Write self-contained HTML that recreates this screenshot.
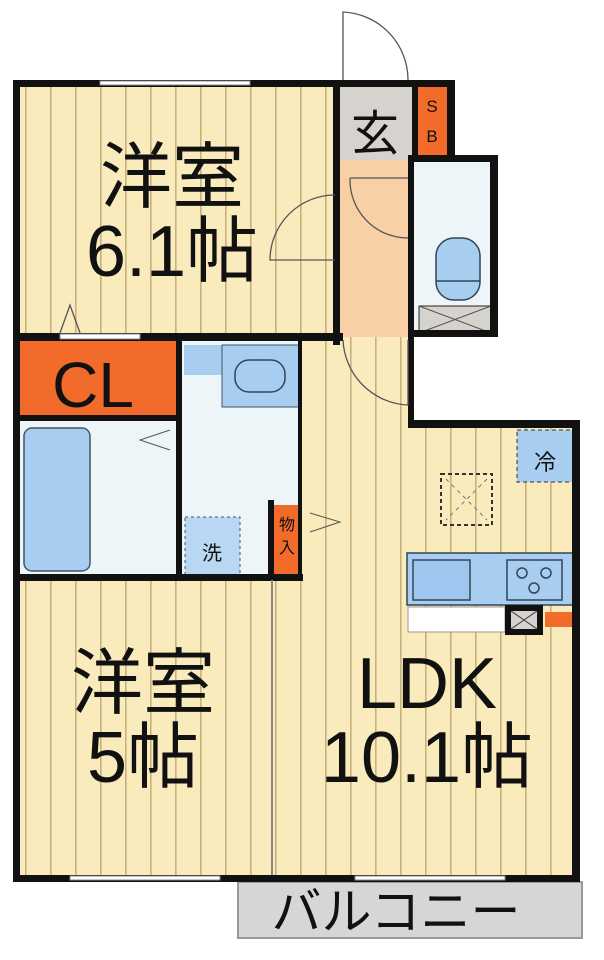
<!DOCTYPE html>
<html><head><meta charset="utf-8"><style>
html,body{margin:0;padding:0;background:#fff;width:604px;height:960px;overflow:hidden}
svg{display:block}
text{font-family:"Liberation Sans","Noto Sans CJK JP",sans-serif;fill:#111}
</style></head><body>
<svg width="604" height="960" viewBox="0 0 604 960" xmlns="http://www.w3.org/2000/svg">
<defs>
<pattern id="fl" width="25" height="10" patternUnits="userSpaceOnUse">
<rect width="25" height="10" fill="#faebbd"/>
<rect x="0" width="1.6" height="10" fill="#c8b27c"/>
</pattern>
</defs>
<rect x="18" y="85" width="318" height="252" fill="url(#fl)"/>
<rect x="18" y="580" width="256" height="298" fill="url(#fl)"/>
<rect x="300" y="337" width="114" height="90" fill="url(#fl)"/>
<rect x="274" y="425" width="302" height="453" fill="url(#fl)"/>
<rect x="338" y="160" width="76" height="177" fill="#f9cfa6"/>
<rect x="338" y="86" width="76" height="74" fill="#d6d3ce"/>
<rect x="418" y="86" width="29" height="74" fill="#f26b2a"/>
<rect x="414" y="160" width="84" height="177" fill="#eef5f8"/>
<rect x="436" y="238" width="44" height="62" rx="18" fill="#a7cdf0" stroke="#345" stroke-width="1.5"/>
<line x1="436" y1="281" x2="480" y2="281" stroke="#345" stroke-width="1.5"/>
<rect x="419" y="306" width="72" height="27" fill="#d6d3ce" stroke="#222" stroke-width="1"/>
<line x1="419" y1="306" x2="491" y2="333" stroke="#555"/><line x1="491" y1="306" x2="419" y2="333" stroke="#555"/>
<rect x="18" y="340" width="158" height="77" fill="#f26b2a"/>
<rect x="18" y="420" width="160" height="157" fill="#eef5f8"/>
<rect x="24" y="428" width="66" height="143" rx="8" fill="#a7cdf0" stroke="#456" stroke-width="1.5"/>
<polyline points="170,430 140,440 170,450" fill="none" stroke="#555"/>
<rect x="180" y="340" width="120" height="237" fill="#eef5f8"/>
<rect x="184" y="345" width="116" height="30" fill="#a7cdf0"/>
<rect x="222" y="345" width="78" height="62" fill="#a7cdf0" stroke="#456" stroke-width="1"/>
<rect x="235" y="360" width="50" height="32" rx="14" fill="#a7cdf0" stroke="#345" stroke-width="1.5"/>
<rect x="185" y="517" width="55" height="58" fill="#b8d7f2" stroke="#456" stroke-dasharray="3,3"/>
<text x="212" y="560" font-size="20" text-anchor="middle">洗</text>
<rect x="274" y="505" width="26" height="70" fill="#f26b2a"/>
<text x="287" y="530" font-size="16" text-anchor="middle">物</text>
<text x="287" y="553" font-size="16" text-anchor="middle">入</text>
<polyline points="310,513 340,522 310,532" fill="none" stroke="#555"/>
<rect x="517" y="430" width="56" height="52" fill="#a7cdf0" stroke="#333" stroke-dasharray="4,3"/>
<text x="545" y="470" font-size="22" text-anchor="middle">冷</text>
<rect x="441" y="474" width="51" height="51" fill="none" stroke="#333" stroke-width="2" stroke-dasharray="4,3"/>
<line x1="446" y1="479" x2="487" y2="520" stroke="#777" stroke-dasharray="4,4"/><line x1="487" y1="479" x2="446" y2="520" stroke="#777" stroke-dasharray="4,4"/>
<rect x="407" y="553" width="166" height="52" fill="#a7cdf0" stroke="#345" stroke-width="1.5"/>
<rect x="413" y="560" width="57" height="40" fill="#9fc6ee" stroke="#345" stroke-width="1.5"/>
<rect x="507" y="560" width="55" height="40" fill="#a7cdf0" stroke="#345" stroke-width="1.5"/>
<circle cx="522" cy="573" r="5" fill="none" stroke="#345" stroke-width="1.5"/><circle cx="546" cy="573" r="5" fill="none" stroke="#345" stroke-width="1.5"/><circle cx="534" cy="588" r="5" fill="none" stroke="#345" stroke-width="1.5"/>
<rect x="408" y="607" width="97" height="25" fill="#fff" stroke="#999"/>
<rect x="505" y="605" width="38" height="30" fill="#111"/>
<rect x="511" y="611" width="26" height="18" fill="#d6d3ce"/>
<line x1="511" y1="611" x2="537" y2="629" stroke="#333"/><line x1="537" y1="611" x2="511" y2="629" stroke="#333"/>
<rect x="545" y="612" width="27" height="15" fill="#f26b2a"/>
<rect x="238" y="882" width="344" height="56" fill="#d6d6d6" stroke="#999" stroke-width="2"/>
<g fill="#111">
<rect x="13" y="80" width="330" height="7"/>
<rect x="13" y="80" width="7" height="802"/>
<rect x="333" y="80" width="7" height="265"/>
<rect x="340" y="80" width="115" height="7"/>
<rect x="412" y="80" width="6" height="80"/>
<rect x="447" y="80" width="8" height="80"/>
<rect x="408" y="155" width="90" height="7"/>
<rect x="490" y="160" width="8" height="177"/>
<rect x="408" y="160" width="6" height="265"/>
<rect x="408" y="330" width="90" height="7"/>
<rect x="13" y="333" width="330" height="8"/>
<rect x="176" y="340" width="6" height="240"/>
<rect x="13" y="415" width="167" height="6"/>
<rect x="13" y="574" width="290" height="7"/>
<rect x="298" y="340" width="4" height="240"/>
<rect x="268" y="500" width="6" height="80"/>
<rect x="408" y="420" width="172" height="8"/>
<rect x="572" y="420" width="8" height="462"/>
<rect x="13" y="875" width="567" height="7"/>
</g>
<line x1="272" y1="580" x2="272" y2="875" stroke="#888" stroke-width="2"/>
<g fill="#fff" stroke="#888"><rect x="100" y="81" width="150" height="4"/><rect x="60" y="334" width="80" height="5"/><rect x="70" y="876" width="150" height="4"/><rect x="355" y="876" width="150" height="4"/></g>
<g fill="none" stroke="#555" stroke-width="1.3">
<path d="M343 80 L343 12 A68 68 0 0 1 408 80"/>
<path d="M335 260 L270 260 A65 65 0 0 1 335 195"/>
<path d="M350 178 L408 178 M350 178 A58 58 0 0 0 408 238"/>
<path d="M343 340 A68 68 0 0 0 408 405 L408 340"/>
<polyline points="60,333 70,305 80,333"/>
</g>
<text x="172" y="202" font-size="72" text-anchor="middle">洋室</text>
<text x="172" y="276" font-size="72" text-anchor="middle">6.1帖</text>
<text x="93" y="407" font-size="64" text-anchor="middle">CL</text>
<text x="375" y="150" font-size="48" text-anchor="middle">玄</text>
<text x="432" y="112" font-size="17" text-anchor="middle">S</text>
<text x="432" y="142" font-size="17" text-anchor="middle">B</text>
<text x="143" y="708" font-size="72" text-anchor="middle">洋室</text>
<text x="143" y="782" font-size="72" text-anchor="middle">5帖</text>
<text x="427" y="708" font-size="72" text-anchor="middle">LDK</text>
<text x="427" y="782" font-size="72" text-anchor="middle">10.1帖</text>
<text x="396" y="929" font-size="50" text-anchor="middle">バルコニー</text>
</svg>
</body></html>
